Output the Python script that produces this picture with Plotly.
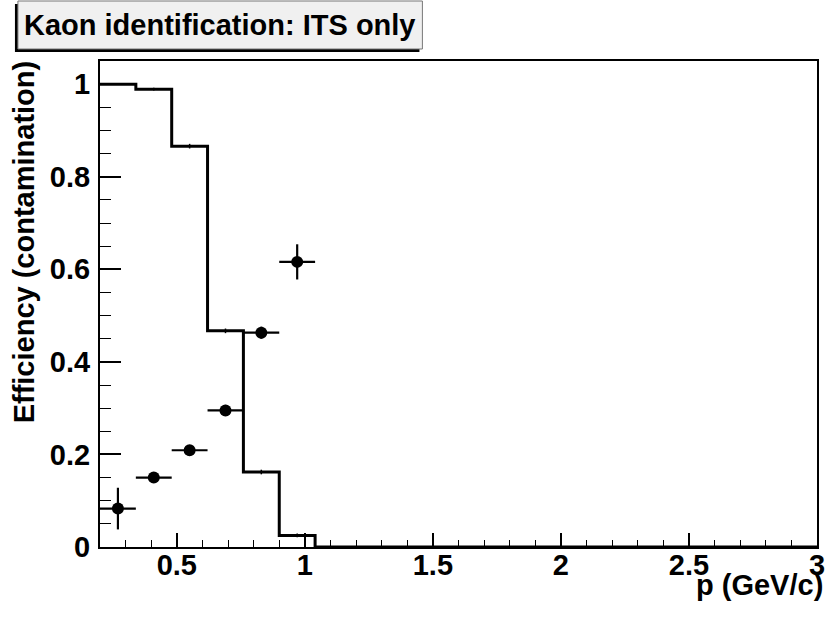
import plotly.graph_objects as go

# ---- data ----
bin_edges = [0.2, 0.34, 0.48, 0.62, 0.76, 0.90, 1.04, 1.18, 1.32, 1.46, 1.60,
             1.74, 1.88, 2.02, 2.16, 2.30, 2.44, 2.58, 2.72, 2.86, 3.0]
efficiency = [1.0, 0.989, 0.866, 0.467, 0.162, 0.025, 0, 0, 0, 0,
              0, 0, 0, 0, 0, 0, 0, 0, 0, 0]
efficiency_err = [0.0, 0.003, 0.005, 0.005, 0.005, 0.004, 0, 0, 0, 0,
                  0, 0, 0, 0, 0, 0, 0, 0, 0, 0]

contam_p = [0.27, 0.41, 0.55, 0.69, 0.83, 0.97]
contamination = [0.083, 0.150, 0.209, 0.295, 0.463, 0.616]
contam_err = [0.045, 0.010, 0.011, 0.012, 0.013, 0.038]
contam_xerr = [0.07, 0.07, 0.07, 0.07, 0.07, 0.07]

title_text = "Kaon identification: ITS only"
x_title = "p (GeV/c)"
y_title = "Efficiency (contamination)"

# ---- layout geometry (pixels) ----
W, H = 836, 617
ML, MR, MT, MB = 100, 11, 61, 70
PW, PH = W - ML - MR, H - MT - MB


def px(xp):
    return (xp - ML) / PW


def py(yp):
    return (H - MB - yp) / PH


FONT = "Liberation Sans, Arial, sans-serif"

fig = go.Figure()

# histogram (efficiency) as step line
step_x = bin_edges[:-1] + [bin_edges[-1]]
step_y = efficiency + [efficiency[-1]]
fig.add_trace(go.Scatter(x=step_x, y=step_y, mode="lines",
                         line=dict(shape="hv", color="black", width=3),
                         hoverinfo="skip", showlegend=False))

centers = [(a + b) / 2 for a, b in zip(bin_edges[:-1], bin_edges[1:])]
fig.add_trace(go.Scatter(x=centers, y=efficiency, mode="markers",
                         marker=dict(size=1, color="rgba(0,0,0,0)"),
                         error_y=dict(type="data", array=efficiency_err,
                                      color="black", thickness=1.5, width=0),
                         hoverinfo="skip", showlegend=False))

# contamination points
fig.add_trace(go.Scatter(x=contam_p, y=contamination, mode="markers",
                         marker=dict(symbol="circle", size=12, color="black"),
                         error_y=dict(type="data", array=contam_err,
                                      color="black", thickness=2.2, width=0),
                         error_x=dict(type="data", array=contam_xerr,
                                      color="black", thickness=2.2, width=0),
                         showlegend=False))

axis_common = dict(showline=True, linecolor="black", linewidth=2, mirror=True,
                   showgrid=False, zeroline=False, ticks="inside",
                   tickcolor="black", tickwidth=1.5,
                   tickfont=dict(family=FONT, size=29, color="black", weight="bold"))

fig.update_xaxes(range=[0.2, 3.0], tick0=0, dtick=0.5, ticklen=14,
                 ticklabelstandoff=-9,
                 minor=dict(dtick=0.1, ticks="inside", ticklen=7,
                            tickcolor="black", tickwidth=1.2, showgrid=False),
                 **axis_common)
fig.update_yaxes(range=[0, 1.05], tick0=0, dtick=0.2, ticklen=21,
                 ticklabelstandoff=2,
                 minor=dict(dtick=0.05, ticks="inside", ticklen=11,
                            tickcolor="black", tickwidth=1.2, showgrid=False),
                 **axis_common)

shapes = [
    # title box shadow
    dict(type="rect", xref="paper", yref="paper",
         x0=px(14), x1=px(423), y0=py(52), y1=py(4),
         fillcolor="black", line=dict(width=0), layer="above"),
    # title box
    dict(type="rect", xref="paper", yref="paper",
         x0=px(17), x1=px(426), y0=py(49), y1=py(1),
         fillcolor="#f0f0f0", line=dict(color="#777777", width=1), layer="above"),
]

annotations = [
    dict(text=title_text, xref="paper", yref="paper",
         x=px(221.5), y=py(25), xanchor="center", yanchor="middle",
         showarrow=False,
         font=dict(family=FONT, size=29, color="black", weight="bold")),
    dict(text=x_title, xref="paper", yref="paper",
         x=px(833), y=py(567), xanchor="right", yanchor="top",
         showarrow=False,
         font=dict(family=FONT, size=29, color="black", weight="bold")),
    dict(text=y_title, xref="paper", yref="paper",
         x=px(23), y=py(58), xanchor="center", yanchor="top",
         textangle=-90, showarrow=False,
         font=dict(family=FONT, size=29, color="black", weight="bold")),
]

fig.update_layout(width=W, height=H,
                  margin=dict(l=ML, r=MR, t=MT, b=MB, pad=0),
                  paper_bgcolor="white", plot_bgcolor="white",
                  shapes=shapes, annotations=annotations,
                  showlegend=False)

fig.write_html("out.html")
